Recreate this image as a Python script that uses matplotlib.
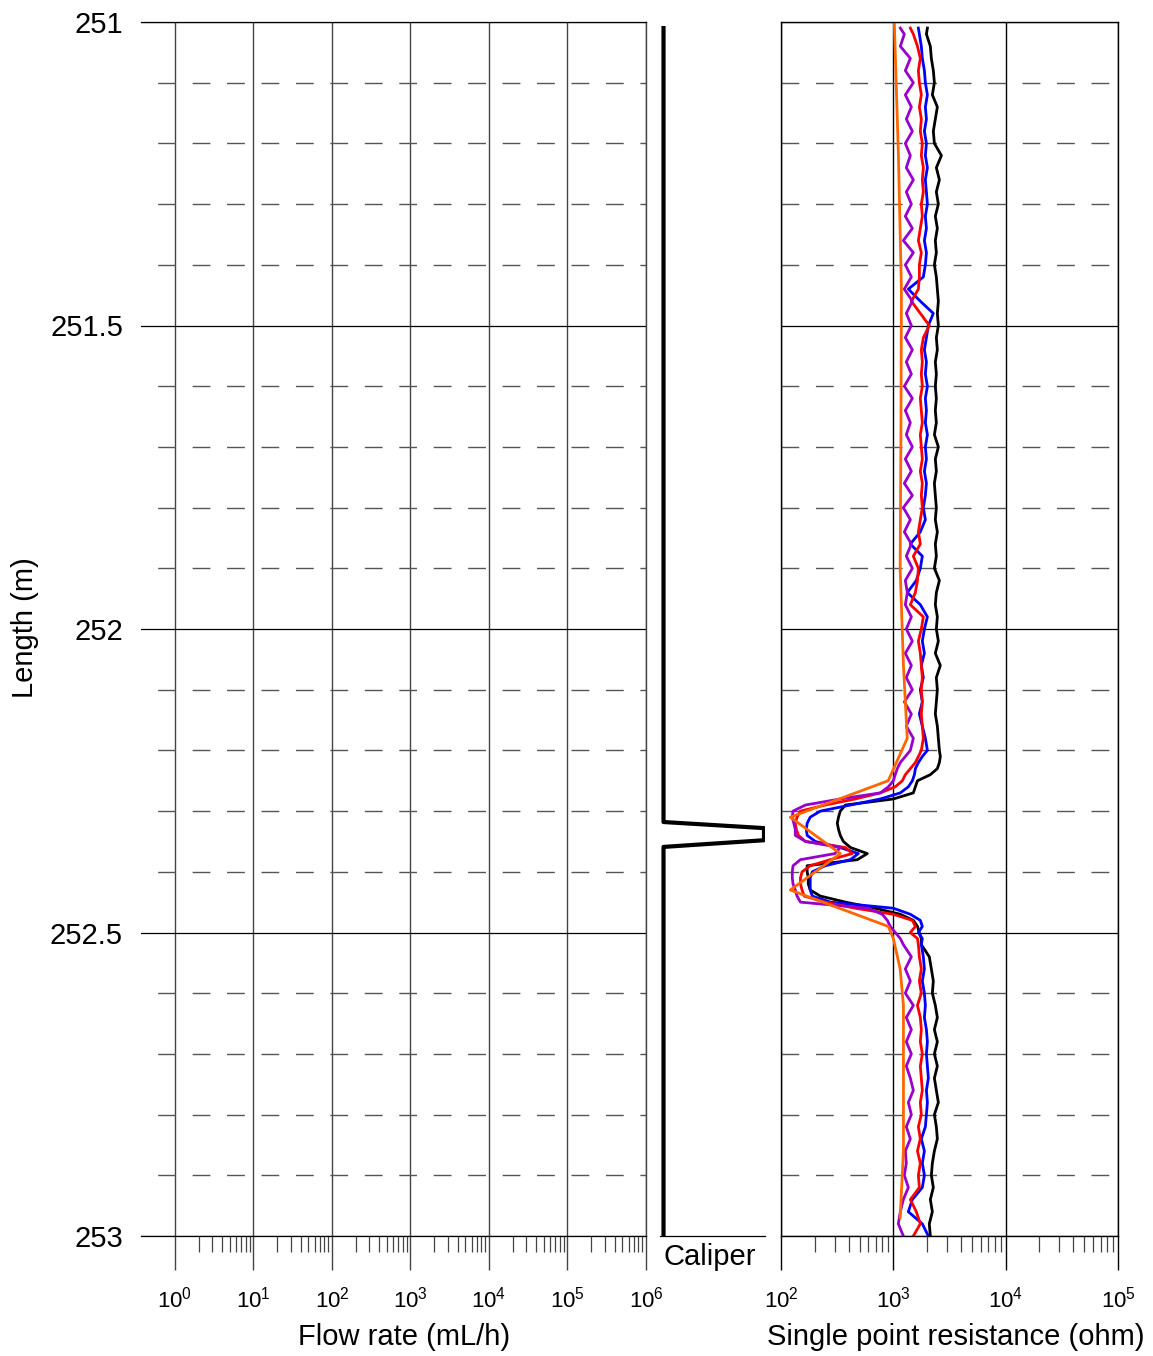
import numpy as np
import matplotlib
matplotlib.use('Agg')
import matplotlib.pyplot as plt
from matplotlib.ticker import FixedLocator, NullFormatter

plt.rcParams['font.family'] = ['Liberation Sans', 'DejaVu Sans']
plt.rcParams['mathtext.fontset'] = 'custom'
plt.rcParams['mathtext.rm'] = 'Liberation Sans'
plt.rcParams['mathtext.it'] = 'Liberation Sans:italic'
plt.rcParams['mathtext.bf'] = 'Liberation Sans:bold'
plt.rcParams['lines.scale_dashes'] = False

# Depth axis
depth_major = [251, 251.5, 252, 252.5, 253]
depth_labels = ['251', '251.5', '252', '252.5', '253']
depth_minor = [251.1, 251.2, 251.3, 251.4, 251.6, 251.7, 251.8, 251.9,
               252.1, 252.2, 252.3, 252.4, 252.6, 252.7, 252.8, 252.9]

# Flow rate axis (no flow data measured)
flow_ticks = [1e0, 1e1, 1e2, 1e3, 1e4, 1e5, 1e6]
flow_labels = [r'$\mathregular{10^{0}}$', r'$\mathregular{10^{1}}$', r'$\mathregular{10^{2}}$',
               r'$\mathregular{10^{3}}$', r'$\mathregular{10^{4}}$', r'$\mathregular{10^{5}}$',
               r'$\mathregular{10^{6}}$']

# Caliper log
depth_cal = [251.01, 252.318, 252.328, 252.348, 252.359, 253.0]
caliper = [0, 0, 1, 1, 0, 0]

# Single point resistance axis
spr_ticks = [1e2, 1e3, 1e4, 1e5]
spr_labels = [r'$\mathregular{10^{2}}$', r'$\mathregular{10^{3}}$',
              r'$\mathregular{10^{4}}$', r'$\mathregular{10^{5}}$']

# Single point resistance logs (ohm)
depth_spr = [251.01, 251.02, 251.04, 251.06, 251.08, 251.10, 251.12, 251.14, 251.16, 251.18, 251.20,
             251.22, 251.24, 251.26, 251.28, 251.30, 251.32, 251.34, 251.36, 251.38, 251.40, 251.42,
             251.44, 251.46, 251.48, 251.50, 251.52, 251.54, 251.56, 251.58, 251.60, 251.62, 251.64,
             251.66, 251.68, 251.70, 251.72, 251.74, 251.76, 251.78, 251.80, 251.82, 251.84, 251.86,
             251.88, 251.90, 251.92, 251.94, 251.96, 251.98, 252.00, 252.02, 252.04, 252.06, 252.08,
             252.10, 252.12, 252.14, 252.16, 252.18, 252.20,
             252.21, 252.22, 252.23, 252.24, 252.25, 252.26, 252.27, 252.28, 252.29, 252.30, 252.31,
             252.32, 252.33, 252.34, 252.35, 252.36, 252.37, 252.38, 252.39, 252.40, 252.41, 252.42,
             252.43, 252.44, 252.45, 252.46, 252.47, 252.48, 252.49, 252.50, 252.51,
             252.52, 252.54, 252.56, 252.58, 252.60, 252.62, 252.64, 252.66, 252.68, 252.70, 252.72,
             252.74, 252.76, 252.78, 252.80, 252.82, 252.84, 252.86, 252.88, 252.90, 252.92, 252.94,
             252.96, 252.98, 253.00]

spr_black = [2010, 1970, 2135, 2180, 2270, 2320, 2225, 2465, 2365, 2270, 2320,
             2680, 2415, 2570, 2415, 2516, 2365, 2465, 2365, 2415, 2320, 2415,
             2465, 2516, 2465, 2516, 2415, 2465, 2365, 2415, 2365, 2415, 2365,
             2415, 2320, 2516, 2365, 2415, 2320, 2365, 2415, 2365, 2465, 2365,
             2415, 2320, 2570, 2415, 2365, 2465, 2415, 2516, 2365, 2620, 2415,
             2465, 2415, 2365, 2465, 2516, 2570,
             2620, 2570, 2465, 2135, 1640, 1570, 1507, 1000, 375, 337, 325,
             317, 325, 337, 359, 415, 587, 478, 171, 171, 175, 175,
             182, 224, 375, 690, 1154, 1507, 1640, 1700, 1775,
             1775, 2090, 2180, 2270, 2225, 2365, 2465, 2320, 2465, 2320, 2465,
             2320, 2415, 2516, 2320, 2415, 2465, 2320, 2225, 2180, 2270, 2135,
             2225, 2090, 2135]

spr_blue = [1670, 1705, 1775, 1812, 1890, 1928, 2010, 1928, 1970, 1890, 1970,
            1928, 2010, 1928, 1970, 2010, 1928, 1970, 1890, 1970, 1928, 1850,
            1360, 1739, 2270, 2050, 1970, 1890, 1970, 1928, 2010, 1928, 1970,
            1928, 2010, 1928, 1970, 1890, 1970, 1928, 1850, 1928, 1739, 1417,
            1812, 1739, 1602, 1332, 1739, 2010, 1890, 1812, 1890, 1775, 1850,
            1739, 1812, 1705, 1812, 1928, 2010,
            1812, 1671, 1571, 1540, 1477, 1360, 1154, 766, 415, 224, 182,
            171, 168, 171, 202, 337, 488, 415, 248, 190, 182, 182,
            182, 190, 275, 1000, 1417, 1739, 1812, 1671, 1812,
            1775, 1850, 1890, 1812, 1890, 1928, 1890, 1970, 2010, 1970, 2010,
            2050, 1970, 2010, 1970, 1928, 1775, 1890, 1812, 1890, 1812, 1477,
            1360, 1812, 2050]

spr_red = [1417, 1507, 1640, 1739, 1671, 1705, 1775, 1705, 1775, 1739, 1812,
           1775, 1850, 1812, 1850, 1775, 1812, 1739, 1671, 1775, 1705, 1705,
           1671, 1447, 1739, 2090, 1850, 1775, 1812, 1775, 1812, 1739, 1775,
           1812, 1739, 1775, 1812, 1739, 1812, 1775, 1812, 1739, 1671, 1739,
           1507, 1671, 1640, 1571, 1417, 1850, 1775, 1671, 1739, 1775, 1812,
           1775, 1812, 1775, 1812, 1850, 1775,
           1671, 1571, 1417, 1279, 1203, 1040, 766, 458, 248, 149, 139,
           134, 137, 143, 165, 375, 431, 275, 182, 154, 149, 149,
           154, 161, 248, 458, 1000, 1477, 1571, 1417, 1640,
           1671, 1705, 1775, 1705, 1775, 1640, 1739, 1775, 1739, 1812, 1739,
           1775, 1812, 1739, 1775, 1671, 1739, 1640, 1739, 1671, 1705, 1417,
           1602, 1739, 1507]

spr_purple = [1154, 1253, 1154, 1417, 1279, 1507, 1279, 1447, 1305, 1477, 1279,
              1417, 1305, 1507, 1305, 1447, 1279, 1477, 1228, 1507, 1279, 1447,
              1253, 1477, 1305, 1447, 1279, 1477, 1305, 1447, 1253, 1477, 1279,
              1417, 1305, 1477, 1279, 1447, 1253, 1477, 1228, 1417, 1253, 1447,
              1305, 1477, 1279, 1332, 1279, 1447, 1305, 1477, 1279, 1447, 1305,
              1477, 1253, 1447, 1305, 1507, 1417,
              1279, 1154, 1085, 1040, 1000, 903, 766, 337, 165, 128, 126,
              130, 134, 134, 165, 337, 302, 149, 128, 126, 126, 128,
              134, 139, 149, 600, 797, 884, 940, 1040, 1154,
              1228, 1447, 1279, 1417, 1279, 1507, 1305, 1447, 1305, 1447, 1305,
              1417, 1507, 1360, 1447, 1305, 1417, 1279, 1305, 1253, 1360, 1228,
              1154, 1108, 1228]

depth_orange = [251.00, 251.10, 251.22, 251.44, 251.66, 251.90, 252.06, 252.18, 252.25,
                252.31, 252.37, 252.43, 252.49, 252.51, 252.56, 252.62, 252.86, 252.97]
spr_orange = [1020, 1060, 1110, 1180, 1170, 1150, 1230, 1330, 900,
              121, 337, 121, 903, 1000, 1150, 1230, 1230, 1150]

W, H = 1153, 1356
fig = plt.figure(figsize=(W / 100, H / 100), dpi=100)


def panel(x0, x1):
    # axes box in pixels -> figure fraction
    return [x0 / W, 1 - 1236 / H, (x1 - x0) / W, 1214 / H]


ax1 = fig.add_axes(panel(141, 646))
ax2 = fig.add_axes(panel(660, 765))
ax3 = fig.add_axes(panel(781, 1118))

dash_color = '#555555'

# ---- left panel: flow rate ----
ax1.set_xscale('log')
ax1.set_xlim(10 ** -0.433, 1e6)
ax1.set_ylim(253, 251)
ax1.xaxis.set_major_locator(FixedLocator(flow_ticks))
ax1.set_xticklabels(flow_labels)
ax1.xaxis.set_minor_locator(FixedLocator([m * 10.0 ** e for e in range(6) for m in range(2, 10)]))
ax1.xaxis.set_minor_formatter(NullFormatter())
ax1.set_yticks(depth_major)
ax1.set_yticklabels(depth_labels)
ax1.set_yticks(depth_minor, minor=True)
ax1.tick_params(axis='y', which='both', length=0, pad=13, labelsize=21)
# long decade ticks continue the vertical grid lines below the axis
ax1.tick_params(axis='x', which='major', direction='out', length=24.5, width=1.0,
                color='#444444', labelsize=16, pad=12)
ax1.tick_params(axis='x', which='minor', direction='out', length=11.5, width=0.9, color='#444444')
ax1.grid(axis='x', which='major', color='#444444', lw=1.0)
ax1.grid(axis='y', which='major', color='black', lw=0.9)
ax1.grid(axis='y', which='minor', color=dash_color, lw=1.0, linestyle=(12.8, (12.8, 12.0)))
ax1.spines['left'].set_visible(False)
ax1.spines['right'].set_color('#444444')
ax1.spines['right'].set_linewidth(1.0)
for s in ['top', 'bottom']:
    ax1.spines[s].set_linewidth(0.9)

# ---- middle panel: caliper ----
ax2.plot(caliper, depth_cal, color='black', lw=3)
ax2.set_xlim(-0.035, 1.01)
ax2.set_ylim(253, 251)
ax2.set_xticks([])
ax2.set_yticks([])
for s in ['top', 'left', 'right']:
    ax2.spines[s].set_visible(False)
ax2.spines['bottom'].set_linewidth(0.9)

# ---- right panel: single point resistance ----
ax3.plot(spr_black, depth_spr, color='black', lw=2)
ax3.plot(spr_blue, depth_spr, color='#0000FF', lw=2)
ax3.plot(spr_red, depth_spr, color='#FF0000', lw=2)
ax3.plot(spr_purple, depth_spr, color='#9900CC', lw=2)
ax3.plot(spr_orange, depth_orange, color='#FF6600', lw=2)
ax3.set_xscale('log')
ax3.set_xlim(1e2, 1e5)
ax3.set_ylim(253, 251)
ax3.xaxis.set_major_locator(FixedLocator(spr_ticks))
ax3.set_xticklabels(spr_labels)
ax3.xaxis.set_minor_locator(FixedLocator([m * 10.0 ** e for e in range(2, 5) for m in range(2, 10)]))
ax3.xaxis.set_minor_formatter(NullFormatter())
ax3.set_yticks(depth_major)
ax3.set_yticks(depth_minor, minor=True)
ax3.tick_params(axis='y', which='both', length=0, labelleft=False)
ax3.tick_params(axis='x', which='major', direction='out', length=24.5, width=1.0,
                color='black', labelsize=16, pad=12)
ax3.tick_params(axis='x', which='minor', direction='out', length=11.5, width=0.9, color='#444444')
ax3.grid(axis='x', which='major', color='black', lw=1.0)
ax3.grid(axis='y', which='major', color='black', lw=0.9)
ax3.grid(axis='y', which='minor', color=dash_color, lw=1.0, linestyle=(0, (12.8, 12.0)))
ax3.set_axisbelow(True)
for s in ax3.spines.values():
    s.set_linewidth(1.0)

# labels
fig.text(25 / W, 1 - 628 / H, 'Length (m)', rotation=90, ha='center', va='center', fontsize=21)
fig.text(404 / W, 1 - 1337 / H, 'Flow rate (mL/h)', ha='center', va='center', fontsize=21)
fig.text(956 / W, 1 - 1337 / H, 'Single point resistance (ohm)', ha='center', va='center', fontsize=21)
fig.text(710 / W, 1 - 1257 / H, 'Caliper', ha='center', va='center', fontsize=21)

fig.savefig('out.png', dpi=100)
